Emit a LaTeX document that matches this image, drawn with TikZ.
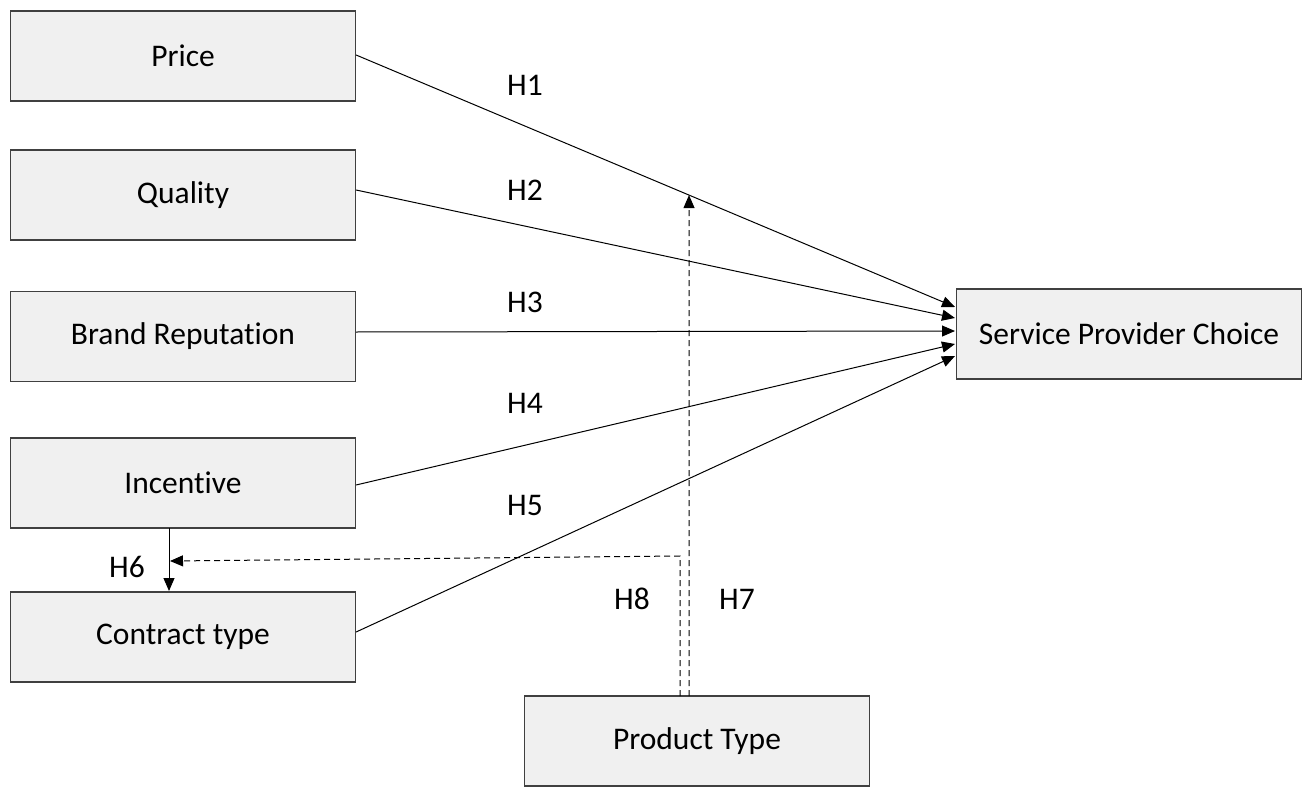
\documentclass[tikz,border=0pt]{standalone}
\usepackage{fontspec}
\setmainfont{Carlito}[Ligatures=NoCommon]
\usetikzlibrary{arrows.meta,intersections}
\begin{document}
\begin{tikzpicture}[x=1pt,y=-1pt,
  factor/.style={draw=black!75,line width=1.2pt,fill=black!6,minimum width=345pt,minimum height=90pt,
    inner sep=0pt,font=\fontsize{31.5}{36}\selectfont},
  link/.style={line width=1pt,-{Triangle[length=13pt,width=11pt]}},
  moder/.style={link,dash pattern=on 6pt off 4pt},
  hlab/.style={font=\fontsize{31.5}{36}\selectfont}]
\useasboundingbox (0,0) rectangle (1307,792);
% independent variables
\node[factor] (price)    at (183,56)  {Price};
\node[factor] (quality)  at (183,195) {Quality};
\node[factor] (brand)    at (183,336.5) {Brand Reputation};
\node[factor] (incent)   at (183,483) {Incentive};
\node[factor] (contract) at (183,637) {Contract type};
% outcome and moderator
\node[factor] (spc)      at (1129,334) {Service Provider Choice};
\node[factor] (prod)     at (697,741) {Product Type};
% anchor points on the outcome box
\coordinate (t1) at (955,307);
\coordinate (t2) at (955,318);
\coordinate (t3) at (955,331);
\coordinate (t4) at (955,344);
\coordinate (t5) at (955,356);
% direct effects
\draw[link,name path=h1] (price.east |- 0,55) -- (t1);
\draw[link] (quality.east |- 0,190) -- (t2);
\draw[link] (brand.east |- 0,332) -- (t3);
\draw[link] (incent.east |- 0,485) -- (t4);
\draw[link] (contract.east |- 0,632) -- (t5);
% incentive to contract type
\coordinate (i6) at (169,528);
\coordinate (c6) at (169,591);
\draw[link] (i6) -- (c6);
% moderating effects of product type
\coordinate (p7) at (689,696);
\coordinate (p8) at (680,696);
\path[name path=v7] (p7) -- (689,0);
\path[name intersections={of=h1 and v7,by=m7}];
\draw[moder] (p7) -- (m7);
\coordinate (k8) at (680,556);
\coordinate (e8) at (170,561);
\draw[moder] (p8) -- (k8) -- (e8);
% hypothesis labels
\node[hlab] (l1) at (525,85)  {H1};
\node[hlab] (l2) at (525,190) {H2};
\node[hlab] (l3) at (525,302) {H3};
\node[hlab] (l4) at (525,403) {H4};
\node[hlab] (l5) at (525,505) {H5};
\node[hlab] (l6) at (127,567) {H6};
\node[hlab] (l8) at (632,599) {H8};
\node[hlab] (l7) at (737,599) {H7};
\end{tikzpicture}
\end{document}
